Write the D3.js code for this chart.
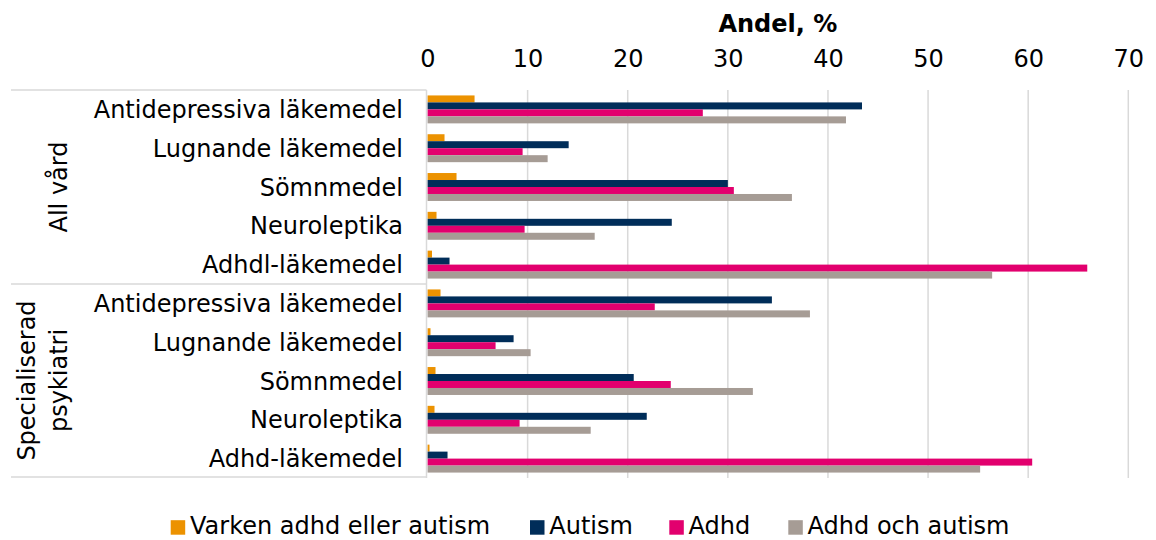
<!DOCTYPE html>
<html>
<head>
<meta charset="utf-8">
<script src="https://cdn.jsdelivr.net/npm/d3@7"></script>
<style>
  html, body { margin: 0; padding: 0; background: #fff; }
  svg text { font-family: "DejaVu Sans", Verdana, sans-serif; fill: #000; }
</style>
</head>
<body>
<svg id="chart" width="1156" height="540"></svg>
<script>
// Drug categories, in drawing order (top to bottom)
const categories = [
  "Antidepressiva läkemedel", "Lugnande läkemedel", "Sömnmedel", "Neuroleptika", "Adhdl-läkemedel",
  "Antidepressiva läkemedel", "Lugnande läkemedel", "Sömnmedel", "Neuroleptika", "Adhd-läkemedel"
];
// Care settings; each covers five categories
const groups = ["All vård", "Specialiserad psykiatri"];
const groupSize = 5;

// Share of patients (%) per series
const seriesNames = ["Varken adhd eller autism", "Autism", "Adhd", "Adhd och autism"];
const neither = [4.7, 1.7, 2.9, 0.9, 0.45, 1.3, 0.3, 0.8, 0.7, 0.2];
const autism  = [43.4, 14.1, 30.0, 24.4, 2.2, 34.4, 8.6, 20.6, 21.9, 2.0];
const adhd    = [27.5, 9.5, 30.6, 9.7, 65.9, 22.7, 6.8, 24.3, 9.2, 60.4];
const both    = [41.8, 12.0, 36.4, 16.7, 56.4, 38.2, 10.3, 32.5, 16.3, 55.2];
const seriesValues = [neither, autism, adhd, both];
const colors = ["#ec9200", "#002d59", "#e2006e", "#a69c95"];

const xTicks = [0, 10, 20, 30, 40, 50, 60, 70];
const xTitle = "Andel, %";

const FONT = 24;
const svg = d3.select("#chart");
const plot = { left: 427.5, right: 1128.3, top: 90, bottom: 478 };

const x = d3.scaleLinear().domain([0, 70]).range([plot.left, plot.right]);
const y = d3.scaleBand()
  .domain(d3.range(categories.length))
  .range([plot.top, plot.bottom])
  .paddingInner(0.28).paddingOuter(0.14);
const ySeries = d3.scaleBand()
  .domain(d3.range(seriesNames.length))
  .range([0, y.bandwidth()]);

const gridColor = "#d9d9d9";

// Vertical gridlines
svg.append("g")
  .selectAll("line")
  .data(xTicks.filter(t => t > 0))
  .join("line")
  .attr("x1", d => x(d)).attr("x2", d => x(d))
  .attr("y1", plot.top).attr("y2", plot.bottom)
  .attr("stroke", gridColor).attr("stroke-width", 1.5);

// Top axis with tick labels
const xAxis = svg.append("g")
  .attr("transform", `translate(0,${plot.top})`)
  .call(d3.axisTop(x).tickValues(xTicks).tickSize(0).tickPadding(23));
xAxis.select(".domain").remove();
xAxis.selectAll("text")
  .style("font-family", '"DejaVu Sans", Verdana, sans-serif')
  .style("font-size", FONT + "px")
  .attr("fill", "#000");

svg.append("text")
  .attr("x", (plot.left + plot.right) / 2)
  .attr("y", 32)
  .attr("text-anchor", "middle")
  .style("font-size", FONT + "px")
  .style("font-weight", "bold")
  .text(xTitle);

// Bars
const rows = svg.append("g")
  .selectAll("g")
  .data(categories.map((c, i) => i))
  .join("g")
  .attr("transform", i => `translate(0,${y(i)})`);

rows.selectAll("rect")
  .data(i => seriesValues.map((vals, s) => ({ s, v: vals[i] })))
  .join("rect")
  .attr("x", x(0))
  .attr("y", d => ySeries(d.s))
  .attr("width", d => x(d.v) - x(0))
  .attr("height", ySeries.bandwidth())
  .attr("fill", d => colors[d.s]);

// Category labels
svg.append("g")
  .selectAll("text")
  .data(categories)
  .join("text")
  .attr("x", 403)
  .attr("y", (d, i) => y(i) + y.bandwidth() / 2)
  .attr("dy", "0.36em")
  .attr("text-anchor", "end")
  .style("font-size", FONT + "px")
  .text(d => d);

// Group frame: left axis line and horizontal separators
const frame = svg.append("g").attr("stroke", gridColor).attr("stroke-width", 1.5);
frame.append("line")
  .attr("x1", plot.left - 1).attr("x2", plot.left - 1)
  .attr("y1", plot.top).attr("y2", plot.bottom);
const sepIdx = [0, groupSize, categories.length];
const sepY = k => (k === 0 ? plot.top : k === categories.length ? plot.bottom - 1 : y(k) - y.step() * y.paddingInner() / 2);
frame.selectAll(".sep")
  .data(sepIdx)
  .join("line")
  .attr("x1", 11).attr("x2", plot.left - 1)
  .attr("y1", d => sepY(d)).attr("y2", d => sepY(d));

// Rotated group labels (baseline positions per line)
const groupLines = [["All vård"], ["Specialiserad", "psykiatri"]];
const groupBaselines = [[67], [35, 67]];
groups.forEach((g, gi) => {
  const y0 = sepY(gi * groupSize), y1 = sepY((gi + 1) * groupSize);
  const cy = (y0 + y1) / 2;
  groupLines[gi].forEach((ln, li) => {
    svg.append("text")
      .attr("transform", `translate(${groupBaselines[gi][li]},${cy}) rotate(-90)`)
      .attr("text-anchor", "middle")
      .style("font-size", FONT + "px")
      .text(ln);
  });
});

// Legend
const legendX = [170.7, 530, 669.3, 788.3];
const legend = svg.append("g")
  .selectAll("g")
  .data(seriesNames)
  .join("g")
  .attr("transform", (d, i) => `translate(${legendX[i]},527.5)`);
legend.append("rect")
  .attr("x", 0).attr("y", -7.3)
  .attr("width", 14.5).attr("height", 14.5)
  .attr("fill", (d, i) => colors[i]);
legend.append("text")
  .attr("x", 19.3)
  .attr("y", 6.5)
  .style("font-size", FONT + "px")
  .text(d => d);
</script>
</body>
</html>
